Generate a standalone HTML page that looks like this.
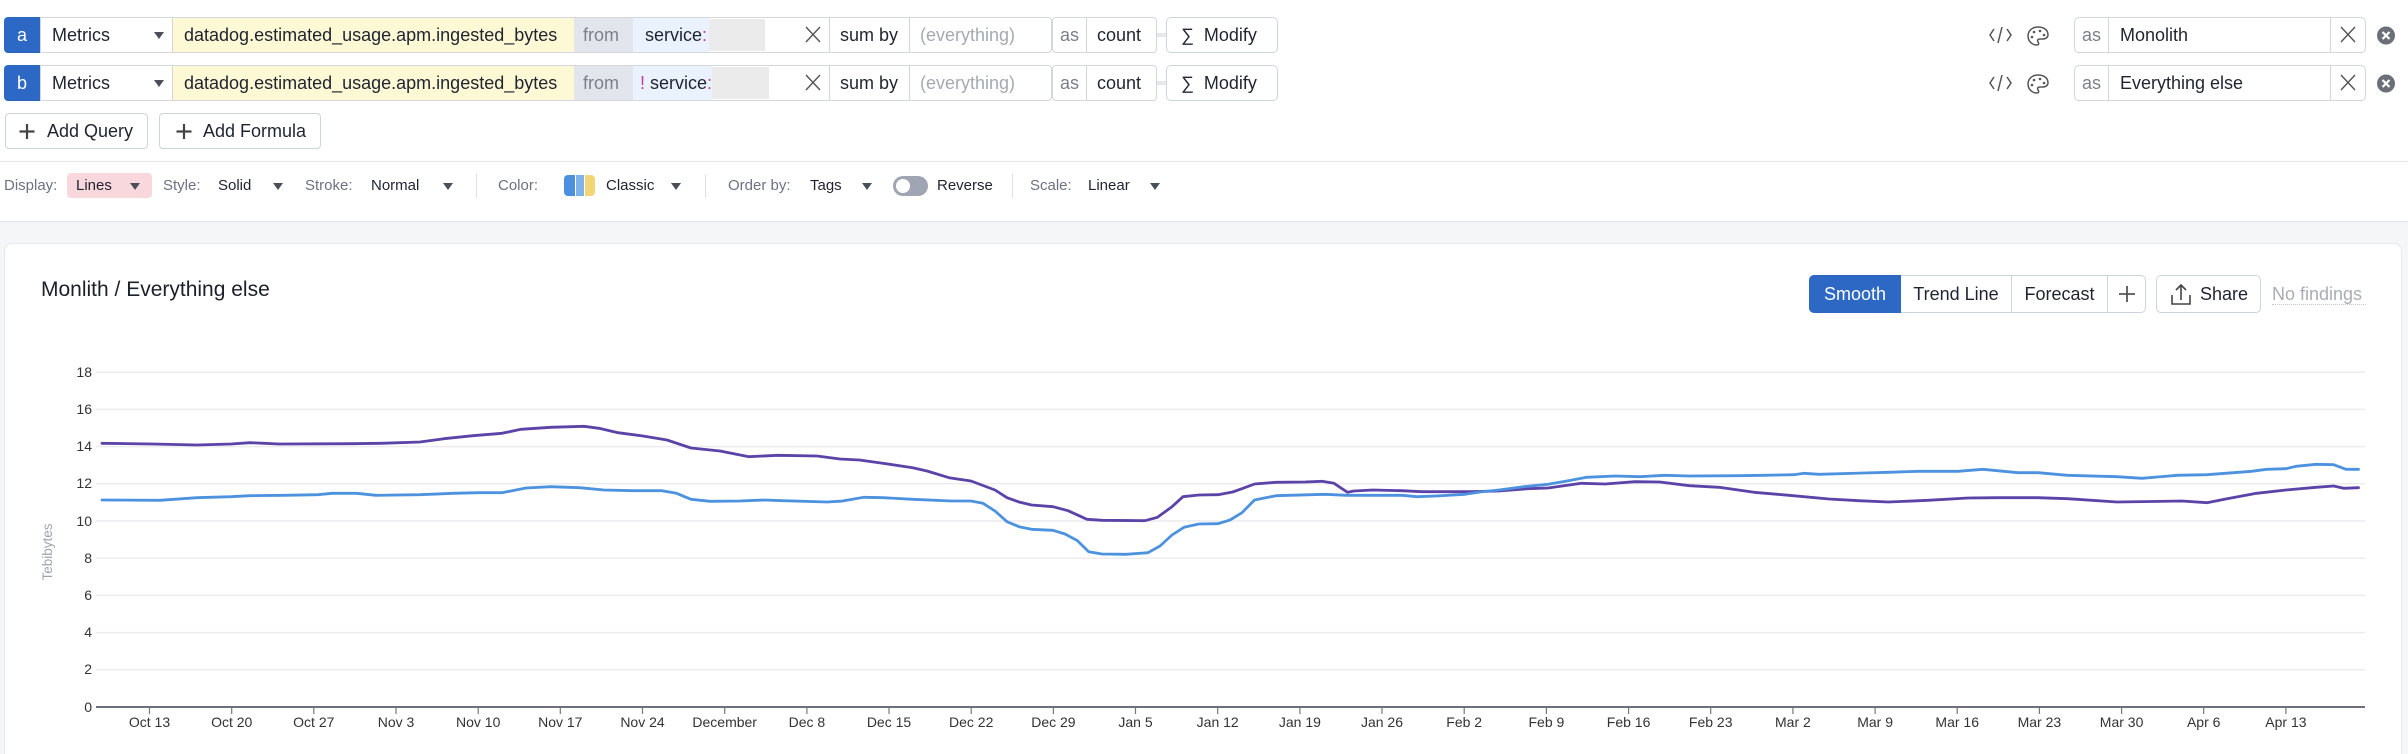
<!DOCTYPE html>
<html><head><meta charset="utf-8">
<style>
html{margin:0;padding:0;width:2408px;height:754px;overflow:hidden}
body{margin:0;padding:0;width:2408px;height:754px;overflow:hidden;position:relative;background:#fff;font-family:"Liberation Sans",sans-serif;color:#1f2430}
.a{position:absolute;box-sizing:border-box;white-space:nowrap}
.q{font-size:18px;line-height:36px}
.t{font-size:15px;line-height:25px;top:173px}
.g{color:#6b7280}
.caret{position:absolute;width:0;height:0;border-left:5px solid transparent;border-right:5px solid transparent;border-top:7px solid #4a4f5a}
.div{position:absolute;width:1px;background:#d3d6dd}
.btn{font-size:18px;line-height:36px;text-align:center}
</style></head><body>

<!-- Row a -->
<div class="a q" style="left:4px;top:17px;width:36px;height:36px;background:#2d68c4;border-radius:4px 0 0 4px;color:#fff;text-align:center">a</div>
<div class="a" style="left:173px;top:18px;width:401px;height:34px;background:#fcf9d4"></div>
<div class="a" style="left:574px;top:18px;width:59px;height:34px;background:#e3e5ec"></div>
<div class="a" style="left:633px;top:18px;width:76px;height:34px;background:#eaf3fd"></div>
<div class="a" style="left:709px;top:19px;width:56px;height:32px;background:#ebebeb"></div>
<div class="a" style="left:40px;top:17px;width:1012px;height:36px;border:1px solid #d3d6dd;border-radius:0 4px 4px 0"></div>
<div class="div" style="left:172px;top:17px;height:36px"></div>
<div class="div" style="left:829px;top:17px;height:36px"></div>
<div class="div" style="left:909px;top:17px;height:36px"></div>
<div class="a q" style="left:52px;top:17px">Metrics</div>
<div class="caret" style="left:154px;top:32px"></div>
<div class="a q" style="left:184px;top:17px">datadog.estimated_usage.apm.ingested_bytes</div>
<div class="a q" style="left:583px;top:17px;color:#7a7f8a">from</div>
<div class="a q" style="left:645px;top:17px">service<span style="color:#c0399e">:</span></div>
<div class="a q" style="left:840px;top:17px">sum by</div>
<div class="a q" style="left:920px;top:17px;color:#a5a9b0">(everything)</div>
<div class="a" style="left:1052px;top:17px;width:105px;height:36px;border:1px solid #d3d6dd;border-radius:4px"></div>
<div class="div" style="left:1086px;top:17px;height:36px"></div>
<div class="a q" style="left:1060px;top:17px;color:#7a7f8a">as</div>
<div class="a q" style="left:1097px;top:17px">count</div>
<div class="a" style="left:1157px;top:33px;width:9px;height:4px;background:#e5e7eb"></div>
<div class="a q" style="left:1166px;top:17px;width:112px;height:36px;border:1px solid #cfd3da;border-radius:5px;line-height:34px;padding-left:14px">&#x2211;&nbsp; Modify</div>

<!-- Row b -->
<div class="a q" style="left:4px;top:65px;width:36px;height:36px;background:#2d68c4;border-radius:4px 0 0 4px;color:#fff;text-align:center">b</div>
<div class="a" style="left:173px;top:66px;width:401px;height:34px;background:#fcf9d4"></div>
<div class="a" style="left:574px;top:66px;width:59px;height:34px;background:#e3e5ec"></div>
<div class="a" style="left:633px;top:66px;width:79px;height:34px;background:#eaf3fd"></div>
<div class="a" style="left:712px;top:67px;width:57px;height:32px;background:#ebebeb"></div>
<div class="a" style="left:40px;top:65px;width:1012px;height:36px;border:1px solid #d3d6dd;border-radius:0 4px 4px 0"></div>
<div class="div" style="left:172px;top:65px;height:36px"></div>
<div class="div" style="left:829px;top:65px;height:36px"></div>
<div class="div" style="left:909px;top:65px;height:36px"></div>
<div class="a q" style="left:52px;top:65px">Metrics</div>
<div class="caret" style="left:154px;top:80px"></div>
<div class="a q" style="left:184px;top:65px">datadog.estimated_usage.apm.ingested_bytes</div>
<div class="a q" style="left:583px;top:65px;color:#7a7f8a">from</div>
<div class="a q" style="left:640px;top:65px"><span style="color:#c0399e">!</span> service<span style="color:#c0399e">:</span></div>
<div class="a q" style="left:840px;top:65px">sum by</div>
<div class="a q" style="left:920px;top:65px;color:#a5a9b0">(everything)</div>
<div class="a" style="left:1052px;top:65px;width:105px;height:36px;border:1px solid #d3d6dd;border-radius:4px"></div>
<div class="div" style="left:1086px;top:65px;height:36px"></div>
<div class="a q" style="left:1060px;top:65px;color:#7a7f8a">as</div>
<div class="a q" style="left:1097px;top:65px">count</div>
<div class="a" style="left:1157px;top:81px;width:9px;height:4px;background:#e5e7eb"></div>
<div class="a q" style="left:1166px;top:65px;width:112px;height:36px;border:1px solid #cfd3da;border-radius:5px;line-height:34px;padding-left:14px">&#x2211;&nbsp; Modify</div>

<!-- thin X icons in query rows -->
<svg class="a" style="left:800px;top:17px" width="30" height="90"><g stroke="#555" stroke-width="1.4" fill="none"><path d="M6 10 l14 15 M20 10 l-14 15"/><path d="M6 58 l14 15 M20 58 l-14 15"/></g></svg>

<!-- right side alias -->
<svg class="a" style="left:1985px;top:17px" width="420" height="90" viewBox="1985 17 420 90">
  <g fill="none" stroke="#555" stroke-width="1.5">
    <path d="M1994 29 l-4 6 l4 6 M2007 29 l4 6 l-4 6 M2002 27 l-4 16"/>
    <path d="M1994 77 l-4 6 l4 6 M2007 77 l4 6 l-4 6 M2002 75 l-4 16"/>
    <path d="M2038 27 c-7 0 -10 5 -10 9 c0 5 4 9 9 9 c2 0 2 -2 1 -3 c-1 -2 0 -3 2 -3 l3 0 c3 0 5 -2 5 -4 c0 -5 -4 -8 -10 -8z"/>
    <path d="M2038 75 c-7 0 -10 5 -10 9 c0 5 4 9 9 9 c2 0 2 -2 1 -3 c-1 -2 0 -3 2 -3 l3 0 c3 0 5 -2 5 -4 c0 -5 -4 -8 -10 -8z"/>
  </g>
  <g fill="#555"><circle cx="2034" cy="32" r="1.3"/><circle cx="2040" cy="31" r="1.3"/><circle cx="2032" cy="37" r="1.3"/><circle cx="2044" cy="35" r="1.3"/>
  <circle cx="2034" cy="80" r="1.3"/><circle cx="2040" cy="79" r="1.3"/><circle cx="2032" cy="85" r="1.3"/><circle cx="2044" cy="83" r="1.3"/></g>
  <circle cx="2386" cy="35.5" r="9" fill="#6b6f78"/><circle cx="2386" cy="83.5" r="9" fill="#6b6f78"/>
  <g stroke="#fff" stroke-width="2.2"><path d="M2382.5 32 l7 7 M2389.5 32 l-7 7"/><path d="M2382.5 80 l7 7 M2389.5 80 l-7 7"/></g>
  <g stroke="#555" stroke-width="1.4" fill="none"><path d="M2341 27 l14 15 M2355 27 l-14 15"/><path d="M2341 75 l14 15 M2355 75 l-14 15"/></g>
</svg>
<div class="a" style="left:2074px;top:17px;width:292px;height:36px;border:1px solid #d3d6dd;border-radius:5px"></div>
<div class="div" style="left:2108px;top:17px;height:36px"></div>
<div class="div" style="left:2330px;top:17px;height:36px"></div>
<div class="a q" style="left:2082px;top:17px;color:#7a7f8a">as</div>
<div class="a q" style="left:2120px;top:17px">Monolith</div>
<div class="a" style="left:2074px;top:65px;width:292px;height:36px;border:1px solid #d3d6dd;border-radius:5px"></div>
<div class="div" style="left:2108px;top:65px;height:36px"></div>
<div class="div" style="left:2330px;top:65px;height:36px"></div>
<div class="a q" style="left:2082px;top:65px;color:#7a7f8a">as</div>
<div class="a q" style="left:2120px;top:65px">Everything else</div>

<!-- Add buttons -->
<div class="a" style="left:5px;top:113px;width:143px;height:36px;border:1px solid #cfd3da;border-radius:4px"></div>
<div class="a" style="left:159px;top:113px;width:162px;height:36px;border:1px solid #cfd3da;border-radius:4px"></div>
<svg class="a" style="left:0;top:113px" width="200" height="36"><g stroke="#444" stroke-width="2.2"><path d="M27 11 v15 M19.5 18.5 h15"/><path d="M184 11 v15 M176.5 18.5 h15"/></g></svg>
<div class="a q" style="left:47px;top:113px">Add Query</div>
<div class="a q" style="left:203px;top:113px">Add Formula</div>

<div class="a" style="left:0;top:161px;width:2408px;height:1px;background:#e3e5e8"></div>

<!-- toolbar -->
<div class="a" style="left:67px;top:173px;width:85px;height:25px;background:#f8d8dd;border-radius:4px"></div>
<div class="a t g" style="left:4px">Display:</div>
<div class="a t" style="left:76px">Lines</div><div class="caret" style="left:130px;top:183px"></div>
<div class="a t g" style="left:163px">Style:</div>
<div class="a t" style="left:218px">Solid</div><div class="caret" style="left:273px;top:183px"></div>
<div class="a t g" style="left:305px">Stroke:</div>
<div class="a t" style="left:371px">Normal</div><div class="caret" style="left:443px;top:183px"></div>
<div class="a" style="left:476px;top:174px;width:1px;height:24px;background:#dcdfe4"></div>
<div class="a t g" style="left:498px">Color:</div>
<div class="a" style="left:564px;top:175px;width:11px;height:21px;background:#4a8fe0;border-radius:4px 0 0 4px"></div>
<div class="a" style="left:576px;top:175px;width:8px;height:21px;background:#7fb3ea"></div>
<div class="a" style="left:585px;top:175px;width:10px;height:21px;background:#f3d477;border-radius:0 4px 4px 0"></div>
<div class="a t" style="left:606px">Classic</div><div class="caret" style="left:671px;top:183px"></div>
<div class="a" style="left:705px;top:174px;width:1px;height:24px;background:#dcdfe4"></div>
<div class="a t g" style="left:728px">Order by:</div>
<div class="a t" style="left:810px">Tags</div><div class="caret" style="left:862px;top:183px"></div>
<div class="a" style="left:893px;top:176px;width:35px;height:20px;background:#a0a5b3;border-radius:10px"></div>
<div class="a" style="left:896px;top:179px;width:14px;height:14px;background:#fff;border-radius:7px"></div>
<div class="a t" style="left:937px">Reverse</div>
<div class="a" style="left:1012px;top:174px;width:1px;height:24px;background:#dcdfe4"></div>
<div class="a t g" style="left:1030px">Scale:</div>
<div class="a t" style="left:1088px">Linear</div><div class="caret" style="left:1150px;top:183px"></div>

<div class="a" style="left:0;top:221px;width:2408px;height:533px;background:#f5f6f8;border-top:1px solid #e3e5e8"></div>

<!-- panel -->
<div class="a" style="left:4px;top:243px;width:2398px;height:520px;background:#fff;border:1px solid #e6e8eb;border-bottom:none;border-radius:8px 8px 0 0"></div>
<div class="a" style="left:41px;top:277px;font-size:21px;line-height:26px;color:#1c2029">Monlith / Everything else</div>

<!-- buttons -->
<div class="a" style="left:1809px;top:275px;width:337px;height:38px;border:1px solid #cfd3da;border-radius:5px"></div>
<div class="a btn" style="left:1809px;top:275px;width:92px;height:38px;background:#2d68c4;color:#fff;border-radius:5px 0 0 5px;line-height:38px">Smooth</div>
<div class="a btn" style="left:1901px;top:275px;width:111px;height:38px;line-height:38px;border-right:1px solid #cfd3da">Trend Line</div>
<div class="a btn" style="left:2012px;top:275px;width:96px;height:38px;line-height:38px;border-right:1px solid #cfd3da">Forecast</div>
<svg class="a" style="left:2108px;top:275px" width="38" height="38"><path d="M19 11 v16 M11 19 h16" stroke="#555" stroke-width="1.8"/></svg>
<div class="a" style="left:2156px;top:275px;width:105px;height:38px;border:1px solid #cfd3da;border-radius:5px"></div>
<svg class="a" style="left:2168px;top:281px" width="28" height="28"><g fill="none" stroke="#444" stroke-width="1.6"><path d="M4 14 v9 h18 v-9"/><path d="M13 19 V4 M8 9 l5 -5 l5 5"/></g></svg>
<div class="a btn" style="left:2200px;top:275px;line-height:38px">Share</div>
<div class="a btn" style="left:2272px;top:275px;line-height:38px;color:#a9adb4">No findings</div>
<div class="a" style="left:2272px;top:304px;width:94px;height:0;border-top:1.5px dotted #c3c6cc"></div>

<!-- chart -->
<svg class="a" style="left:0;top:0" width="2408" height="754" viewBox="0 0 2408 754">
<g stroke="#ececee" stroke-width="1.5">
<line x1="96" x2="2365" y1="372.2" y2="372.2"/><line x1="96" x2="2365" y1="409.4" y2="409.4"/>
<line x1="96" x2="2365" y1="446.6" y2="446.6"/><line x1="96" x2="2365" y1="483.8" y2="483.8"/>
<line x1="96" x2="2365" y1="521" y2="521"/><line x1="96" x2="2365" y1="558.2" y2="558.2"/>
<line x1="96" x2="2365" y1="595.4" y2="595.4"/><line x1="96" x2="2365" y1="632.6" y2="632.6"/>
<line x1="96" x2="2365" y1="669.8" y2="669.8"/>
</g>
<line x1="96" x2="2365" y1="707" y2="707" stroke="#6b6f7e" stroke-width="2"/>
<g font-family="Liberation Sans, sans-serif" font-size="14" fill="#333" text-anchor="end">
<text x="92" y="377">18</text><text x="92" y="414">16</text><text x="92" y="451">14</text>
<text x="92" y="488">12</text><text x="92" y="526">10</text><text x="92" y="563">8</text>
<text x="92" y="600">6</text><text x="92" y="637">4</text><text x="92" y="674">2</text><text x="92" y="712">0</text>
</g>
<text transform="translate(52,552) rotate(-90)" text-anchor="middle" font-family="Liberation Sans, sans-serif" font-size="13.5" fill="#a0a4aa">Tebibytes</text>
<g stroke="#777" stroke-width="1.2">
<path d="M149.5 708v6M231.7 708v6M313.8 708v6M396 708v6M478.2 708v6M560.3 708v6M642.5 708v6M724.7 708v6M806.9 708v6M889 708v6M971.2 708v6M1053.4 708v6M1135.5 708v6M1217.7 708v6M1299.9 708v6M1382 708v6M1464.2 708v6M1546.4 708v6M1628.6 708v6M1710.7 708v6M1792.9 708v6M1875.1 708v6M1957.2 708v6M2039.4 708v6M2121.6 708v6M2203.7 708v6M2285.9 708v6"/>
</g>
<g font-family="Liberation Sans, sans-serif" font-size="14" fill="#333" text-anchor="middle">
<text x="149.5" y="727">Oct 13</text><text x="231.7" y="727">Oct 20</text><text x="313.8" y="727">Oct 27</text>
<text x="396" y="727">Nov 3</text><text x="478.2" y="727">Nov 10</text><text x="560.3" y="727">Nov 17</text>
<text x="642.5" y="727">Nov 24</text><text x="724.7" y="727">December</text><text x="806.9" y="727">Dec 8</text>
<text x="889" y="727">Dec 15</text><text x="971.2" y="727">Dec 22</text><text x="1053.4" y="727">Dec 29</text>
<text x="1135.5" y="727">Jan 5</text><text x="1217.7" y="727">Jan 12</text><text x="1299.9" y="727">Jan 19</text>
<text x="1382" y="727">Jan 26</text><text x="1464.2" y="727">Feb 2</text><text x="1546.4" y="727">Feb 9</text>
<text x="1628.6" y="727">Feb 16</text><text x="1710.7" y="727">Feb 23</text><text x="1792.9" y="727">Mar 2</text>
<text x="1875.1" y="727">Mar 9</text><text x="1957.2" y="727">Mar 16</text><text x="2039.4" y="727">Mar 23</text>
<text x="2121.6" y="727">Mar 30</text><text x="2203.7" y="727">Apr 6</text><text x="2285.9" y="727">Apr 13</text>
</g>
<polyline fill="none" stroke="#5b43a8" stroke-width="2.8" stroke-linejoin="round" stroke-linecap="round" points="102,443.3 153,444 197,445 231,444 250,442.7 264.5,443.3 279,444 352,443.7 381,443.3 420,442 444,438.7 473,435.7 502,433.3 521,429.3 550.5,427.3 584,426.3 599,428.3 618,432.7 643,436 667,440 691,448 720,451 749,456.7 778,455.3 817,456 840,459 859.4,460 879,462.7 912.7,467.7 927,471 949,477.7 971,481 995,490 1007,497.7 1019,502 1031.5,505 1053,506.7 1068,510.7 1087,519.3 1102,520.3 1145,520.7 1157.5,517.3 1172,506.7 1183,496.7 1199,495 1218,494.7 1232.6,492 1242,488.7 1254.5,484 1276,482.3 1305,482 1322,481.3 1334,483.3 1347.5,492.3 1354,491 1373,490 1402,490.7 1421.7,491.7 1470,491.7 1499,491 1528,488.7 1548,488 1581.6,483.3 1605,484 1635,481.7 1659.6,482 1689.5,485.7 1719,487.3 1754,492.3 1789,495.3 1829,499 1858.6,500.7 1888.5,502 1928,500.3 1968,498 1998,497.7 2037.7,497.7 2067.5,498.7 2117,502 2182,501 2207,502.7 2227,498.7 2256.6,493.3 2286,490 2316,487.3 2333.7,486 2343.6,488.3 2358.5,487.7"/>
<polyline fill="none" stroke="#4d92de" stroke-width="2.8" stroke-linejoin="round" stroke-linecap="round" points="102,500 160,500.3 197,497.7 231,496.7 250,495.7 284,495.3 318,494.7 332,493.3 356.6,493.3 376,495.3 420,494.7 453.5,493.3 478,492.7 502,492.7 526,488 550.5,486.7 579.6,487.7 604,490 633,490.7 662,490.7 676.5,493.3 691,499.3 710,501.3 739.5,501 764,500 783,500.7 827,502 841,501.2 864,497.3 883.6,497.7 912.7,499.3 951.5,501 971,501 983,503.3 995,511 1007,521.7 1019,526.7 1031.5,529.3 1053,530.3 1065,534 1077.5,540.7 1088.7,551.7 1102,554 1126,554.3 1148,552.7 1160,546 1172,535 1184,527.3 1198.7,524 1218,523.7 1230,520 1242,512.7 1254.5,500 1276,495.7 1325,494.3 1346.5,495.3 1402,495.3 1417,496.7 1436,496 1465,494.3 1480,492 1499,490 1523.5,486.7 1548,484.3 1567,481 1586.5,477.3 1615,476 1640,476.7 1664.6,475.3 1689.5,476 1739,475.7 1764,475.3 1794,474.7 1804,473.3 1819,474.3 1863.6,473 1888.5,472.3 1918,471.3 1958,471.3 1983,469.3 2018,472.7 2038,472.7 2067.5,475.3 2117,476.7 2142,478.3 2177,475.3 2207,474.7 2251.6,471.3 2266.5,469.3 2286,468.7 2296,466.3 2316,464.3 2333.7,464.7 2346,469.3 2358.5,469.3"/>
</svg>
</body></html>
